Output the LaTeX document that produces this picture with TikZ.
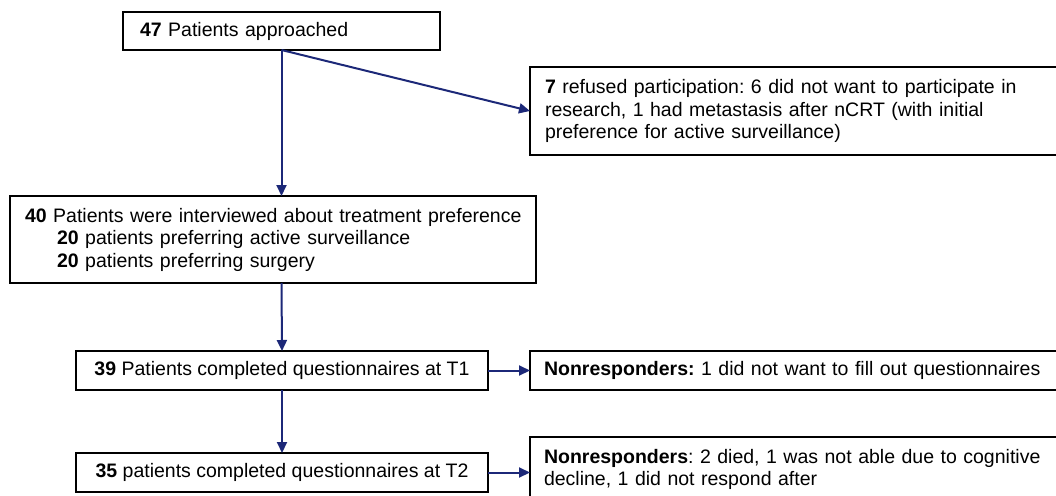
\documentclass[tikz,border=0pt]{standalone}
\usepackage{fontspec}
\setmainfont{Liberation Sans}
\usetikzlibrary{arrows.meta,calc}
\definecolor{arrowblue}{RGB}{28,40,120}
\begin{document}
\frenchspacing
\begin{tikzpicture}[x=1pt,y=-1pt,
  box/.style={draw=black, line width=1.4pt, outer sep=0pt, anchor=north west,
    font=\fontsize{19.5}{22.5}\selectfont},
  lbox/.style={box, align=left, inner ysep=0pt},
  flow/.style={draw=arrowblue, line width=2pt, -{Triangle[length=11pt,width=10pt]}}]
\useasboundingbox (0,0) rectangle (1056,495);
\clip (0,0) rectangle (1056,495);

\node[lbox, text width=283pt, inner xsep=17pt, minimum height=38pt] (A) at (123,12)
  {\textbf{47} Patients approached};

\node[lbox, text width=530pt, inner xsep=15pt, minimum height=88pt] (C) at (530,67)
  {\textbf{7} refused participation: 6 did not want to participate in\\
   research, 1 had metastasis after nCRT (with initial\\
   preference for active surveillance)};

\node[lbox, text width=496pt, inner xsep=15pt, minimum height=87pt] (B) at (10,196)
  {\makebox[496pt][l]{\textbf{40} Patients were interviewed about treatment preference}\\
   \hspace*{32pt}\textbf{20} patients preferring active surveillance\\
   \hspace*{32pt}\textbf{20} patients preferring surgery};

\node[box, minimum width=412pt, minimum height=39pt, inner sep=0pt] (D) at (76,351)
  {\textbf{39} Patients completed questionnaires at T1};

\node[lbox, text width=530pt, inner xsep=14pt, minimum height=39pt] (E) at (530,351)
  {\textbf{Nonresponders:} 1 did not want to fill out questionnaires};

\node[box, minimum width=412pt, minimum height=39pt, inner sep=0pt] (F) at (76,453)
  {\textbf{35} patients completed questionnaires at T2};

\node[lbox, text width=530pt, inner xsep=14pt, inner ysep=12pt] (G) at (530,437)
  {\textbf{Nonresponders}: 2 died, 1 was not able due to cognitive\\
   decline, 1 did not respond after};

\draw[flow] (A.south) -- (A.south |- B.north);
\draw[flow] (A.south) -- (C.west);
\draw[flow] (A.south |- B.south) -- (D.north);
\draw[flow] (D.east) -- (D.east -| E.west);
\draw[flow] (D.south) -- (F.north);
\draw[flow] (F.east) -- (F.east -| G.west);
\end{tikzpicture}
\end{document}
